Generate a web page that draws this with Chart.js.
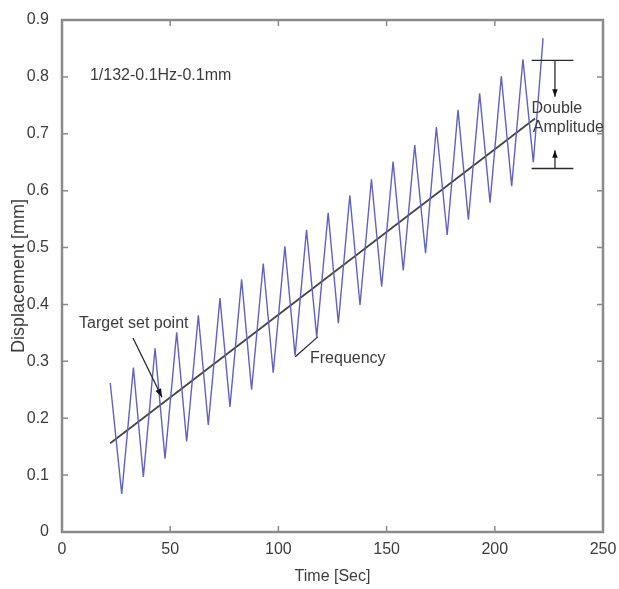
<!DOCTYPE html>
<html>
<head>
<meta charset="utf-8">
<script src="https://cdn.jsdelivr.net/npm/chart.js@4.4.1/dist/chart.umd.min.js"></script>
<style>
  body { margin: 0; background: #fff; }
</style>
</head>
<body>
<canvas id="chart" width="619" height="589"></canvas>
<script>
// displacement signal, peaks and troughs
let sigTime = [22.3, 27.6, 33, 37.6, 43, 47.6, 53, 57.6, 63, 67.6, 73, 77.6, 83, 87.6, 93, 97.6, 103, 107.7, 113, 117.7,
  123, 127.7, 133, 137.7, 143, 147.7, 153, 157.7, 163, 168, 173, 178, 183, 187.8, 193, 197.8, 203, 207.8, 213, 217.8, 222.3];
let sigDisp = [0.262, 0.067, 0.289, 0.097, 0.323, 0.129, 0.351, 0.159, 0.381, 0.188, 0.411, 0.22, 0.444, 0.25,
  0.472, 0.28, 0.502, 0.31, 0.531, 0.343, 0.561, 0.367, 0.592, 0.399, 0.62, 0.431, 0.651, 0.46, 0.68,
  0.49, 0.712, 0.522, 0.742, 0.549, 0.771, 0.579, 0.801, 0.608, 0.831, 0.65, 0.868];
// target set point line
let targetTime = [22.3, 218.6];
let targetDisp = [0.156, 0.727];
let xTicks = [0, 50, 100, 150, 200, 250];
let yTicks = [0, 0.1, 0.2, 0.3, 0.4, 0.5, 0.6, 0.7, 0.8, 0.9];

const txtFont = { family: '"Liberation Sans", Arial', size: 16 };
const txtColor = "#3c3c3c";

// frame, inner ticks and annotations
const decor = {
  id: "decor",
  afterDraw(chart) {
    const { ctx, chartArea: a } = chart;
    const xs = chart.scales.x, ys = chart.scales.y;
    const px = (v) => xs.getPixelForValue(v);
    const py = (v) => ys.getPixelForValue(v);
    ctx.save();
    ctx.strokeStyle = "#8a8a8a";
    ctx.lineWidth = 2.5;
    ctx.strokeRect(a.left, a.top, a.right - a.left, a.bottom - a.top);
    ctx.lineWidth = 1.5;
    ctx.beginPath();
    xs.ticks.forEach((t) => {
      const x = px(t.value);
      ctx.moveTo(x, a.bottom); ctx.lineTo(x, a.bottom - 6);
      ctx.moveTo(x, a.top); ctx.lineTo(x, a.top + 6);
    });
    ys.ticks.forEach((t) => {
      const y = py(t.value);
      ctx.moveTo(a.left, y); ctx.lineTo(a.left + 6, y);
      ctx.moveTo(a.right, y); ctx.lineTo(a.right - 6, y);
    });
    ctx.stroke();

    ctx.fillStyle = txtColor;
    ctx.font = `${txtFont.size}px ${txtFont.family}`;
    ctx.textBaseline = "middle";
    ctx.textAlign = "left";
    ctx.fillText("1/132-0.1Hz-0.1mm", px(12.9), py(0.803));
    ctx.fillText("Target set point", px(7.9), py(0.367));
    ctx.fillText("Frequency", px(114.6), py(0.304));
    ctx.textAlign = "center";
    ctx.fillText("Double", px(228.7), py(0.745));
    ctx.fillText("Amplitude", px(234), py(0.71));

    ctx.strokeStyle = "#2a2a2a";
    ctx.fillStyle = "#111";
    ctx.lineWidth = 1.3;
    const arrow = (x1, y1, x2, y2, size) => {
      ctx.beginPath();
      ctx.moveTo(px(x1), py(y1));
      ctx.lineTo(px(x2), py(y2));
      ctx.stroke();
      const ang = Math.atan2(py(y2) - py(y1), px(x2) - px(x1));
      ctx.beginPath();
      ctx.moveTo(px(x2), py(y2));
      ctx.lineTo(px(x2) - size * Math.cos(ang - 0.35), py(y2) - size * Math.sin(ang - 0.35));
      ctx.lineTo(px(x2) - size * Math.cos(ang + 0.35), py(y2) - size * Math.sin(ang + 0.35));
      ctx.closePath();
      ctx.fill();
    };
    arrow(32.8, 0.341, 46.2, 0.237, 9);
    arrow(227.8, 0.829, 227.8, 0.765, 8);
    arrow(227.8, 0.639, 227.8, 0.671, 8);
    ctx.beginPath();
    ctx.moveTo(px(217), py(0.829)); ctx.lineTo(px(236.3), py(0.829));
    ctx.moveTo(px(217), py(0.639)); ctx.lineTo(px(236.3), py(0.639));
    ctx.moveTo(px(107.8), py(0.308)); ctx.lineTo(px(118.2), py(0.343));
    ctx.stroke();
    ctx.restore();
  },
};

new Chart(document.getElementById("chart"), {
  type: "scatter",
  data: {
    datasets: [
      {
        data: sigTime.map((t, i) => ({ x: t, y: sigDisp[i] })),
        showLine: true,
        borderColor: "#6262bc",
        borderWidth: 1.4,
        pointRadius: 0,
      },
      {
        data: targetTime.map((t, i) => ({ x: t, y: targetDisp[i] })),
        showLine: true,
        borderColor: "#444444",
        borderWidth: 1.8,
        pointRadius: 0,
      },
    ],
  },
  options: {
    responsive: false,
    animation: false,
    layout: { padding: { top: 20, right: 16, left: 0, bottom: 0 } },
    plugins: { legend: { display: false }, tooltip: { enabled: false } },
    scales: {
      x: {
        min: 0,
        max: 250,
        afterBuildTicks: (s) => { s.ticks = xTicks.map((v) => ({ value: v })); },
        afterFit: (s) => { s.height = 57; s.paddingLeft = 0; s.paddingRight = 0; },
        grid: { display: false },
        border: { display: false },
        ticks: { color: txtColor, font: txtFont, padding: 0, maxRotation: 0 },
        title: { display: true, text: "Time [Sec]", color: txtColor, font: txtFont, padding: { top: 0, bottom: 3 } },
      },
      y: {
        min: 0,
        max: 0.9,
        afterBuildTicks: (s) => { s.ticks = yTicks.map((v) => ({ value: v })); },
        afterFit: (s) => { s.width = 62; s.paddingTop = 0; s.paddingBottom = 0; },
        grid: { display: false },
        border: { display: false },
        ticks: { color: txtColor, font: txtFont, padding: 5, callback: (v) => String(+v.toFixed(1)) },
        title: {
          display: true,
          text: "Displacement [mm]",
          color: txtColor,
          font: { family: '"Liberation Sans", Arial', size: 18 },
          padding: { top: 8, bottom: 0 },
        },
      },
    },
  },
  plugins: [decor],
});
</script>
</body>
</html>
